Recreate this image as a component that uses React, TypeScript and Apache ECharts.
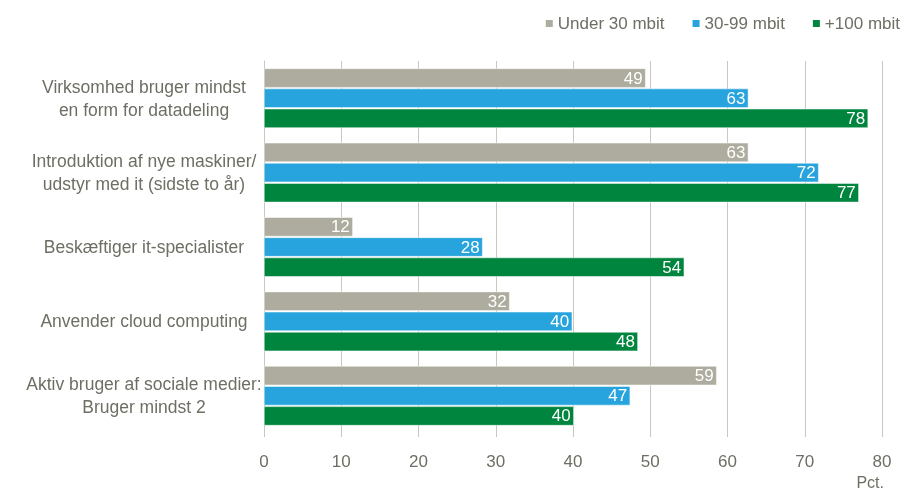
import React, { useEffect, useRef } from "react";
import * as echarts from "echarts";

const categories = [
  "Virksomhed bruger mindst\nen form for datadeling",
  "Introduktion af nye maskiner/\nudstyr med it (sidste to år)",
  "Beskæftiger it-specialister",
  "Anvender cloud computing",
  "Aktiv bruger af sociale medier:\nBruger mindst 2",
];
const seriesNames = ["Under 30 mbit", "30-99 mbit", "+100 mbit"];
const under30 = [49.4, 62.7, 11.5, 31.8, 58.6];
const mid30to99 = [62.7, 71.8, 28.3, 39.9, 47.4];
const plus100 = [78.2, 77.0, 54.4, 48.4, 40.1];
const xTicks = [0, 10, 20, 30, 40, 50, 60, 70, 80];

const colors = ["#ADAC9E", "#27A3DD", "#00853F"];
const FONT = "'Liberation Sans Narrow', 'Arial Narrow', 'Liberation Sans', Arial, sans-serif";
const TEXT = "#6E6E64";

export default function App() {
  const ref = useRef<HTMLDivElement>(null);
  useEffect(() => {
    if (!ref.current) return;
    const chart = echarts.init(ref.current, null, { renderer: "svg" });
    const datas = [under30, mid30to99, plus100];
    chart.setOption({
      animation: false,
      legend: {
        right: 4,
        top: 10,
        itemWidth: 9,
        itemHeight: 9,
        itemGap: 26,
        icon: "rect",
        textStyle: { fontFamily: FONT, fontSize: 17, color: TEXT, padding: [0, 0, 0, -1] },
        data: seriesNames,
      },
      grid: { left: 264, right: 27, top: 61, bottom: 59 },
      xAxis: {
        type: "value",
        min: xTicks[0],
        max: xTicks[xTicks.length - 1],
        interval: 10,
        axisLine: { show: false },
        axisTick: { show: true, length: 4, lineStyle: { color: "#C8C8BE" } },
        splitLine: { show: true, lineStyle: { color: "#C8C8BE", width: 1 } },
        axisLabel: { fontFamily: FONT, fontSize: 17, color: TEXT, margin: 20 },
      },
      yAxis: {
        type: "category",
        inverse: true,
        data: categories,
        axisLine: { show: true, lineStyle: { color: "#C8C8BE" } },
        axisTick: { show: false },
        axisLabel: {
          fontFamily: FONT,
          fontSize: 17.5,
          color: TEXT,
          align: "center",
          margin: 120,
          lineHeight: 23,
        },
      },
      graphic: [
        {
          type: "text",
          right: 25,
          top: 474,
          style: { text: "Pct.", fontFamily: FONT, fontSize: 16, fill: TEXT },
        },
      ],
      series: seriesNames.map((name, i) => ({
        name,
        type: "bar",
        data: datas[i],
        barCategoryGap: "20%",
        barGap: "5%",
        itemStyle: { color: colors[i], borderColor: "#ffffff", borderWidth: 0.5 },
        label: {
          show: true,
          position: "insideRight",
          offset: [2, 0],
          color: "#ffffff",
          fontFamily: FONT,
          fontSize: 17,
          formatter: (p: any) => String(Math.round(p.value)),
        },
      })),
    });
    return () => chart.dispose();
  }, []);
  return (
    <div
      ref={ref}
      style={{ position: "fixed", left: 0, top: 0, width: 909, height: 492 }}
    />
  );
}
